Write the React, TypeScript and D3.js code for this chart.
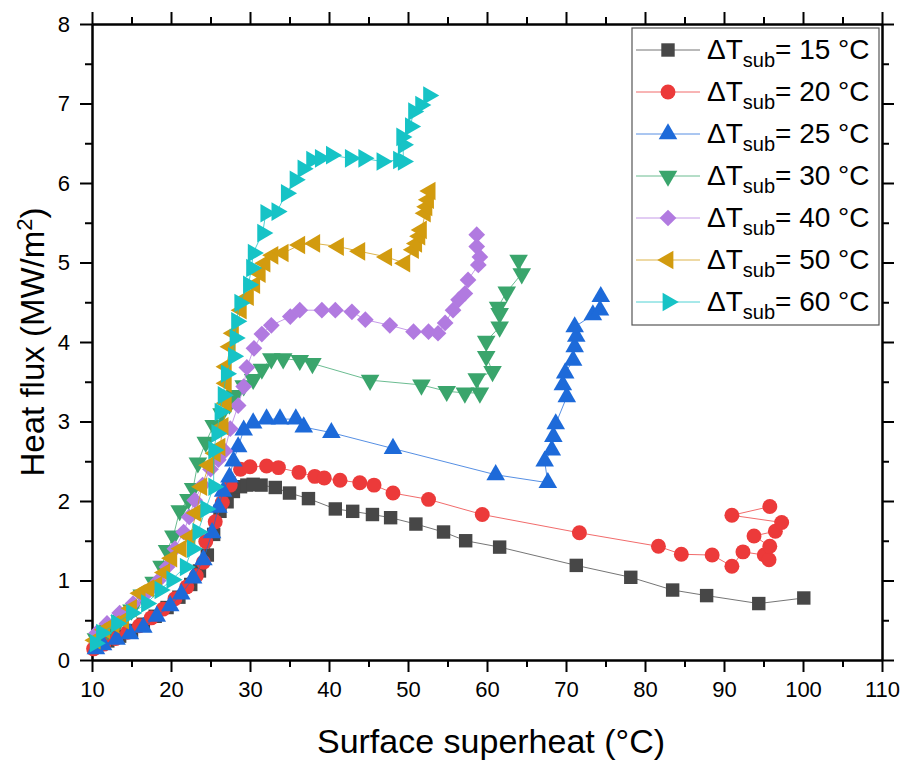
import React, { useEffect, useRef } from 'react';
import * as d3 from 'd3';

// Surface superheat (°C), heat flux (MW/m2)
const dt15: [number, number][] = [
  [10.5, 0.18], [12, 0.24], [13.5, 0.3], [15, 0.37], [16.5, 0.45], [18, 0.55], [19.5, 0.66], [21, 0.79],
  [22.5, 0.95], [23.6, 1.12], [24.6, 1.32], [25.4, 1.58], [26.2, 1.87], [27.1, 1.99], [27.9, 2.12],
  [28.8, 2.18], [29.6, 2.2], [30.4, 2.21], [31.4, 2.2], [33.2, 2.17], [35.0, 2.1], [37.4, 2.03],
  [40.8, 1.9], [43.0, 1.87], [45.5, 1.83], [47.8, 1.79], [51.0, 1.71], [54.5, 1.61], [57.3, 1.5],
  [61.6, 1.42], [71.3, 1.19], [78.2, 1.04], [83.5, 0.88], [87.8, 0.81], [94.4, 0.71], [100.1, 0.78]
];
const dt20: [number, number][] = [
  [10.2, 0.14], [11.5, 0.2], [13, 0.27], [14.5, 0.35], [16, 0.43], [17.5, 0.53], [19, 0.64], [20.5, 0.77],
  [22, 0.92], [23.2, 1.06], [24.1, 1.23], [24.4, 1.49], [25.6, 1.74], [26.5, 1.98], [27.5, 2.2],
  [28.8, 2.4], [30.0, 2.43], [32.1, 2.44], [33.6, 2.42], [36.2, 2.36], [38.2, 2.31], [39.4, 2.29],
  [41.4, 2.26], [43.9, 2.23], [45.7, 2.2], [48.1, 2.1], [52.6, 2.02], [59.4, 1.83], [71.7, 1.6],
  [81.7, 1.43], [84.6, 1.33], [88.5, 1.32], [91.0, 1.18], [92.4, 1.36], [95.1, 1.32], [95.7, 1.26],
  [95.8, 1.43], [93.8, 1.56], [96.5, 1.62], [97.3, 1.73], [91.0, 1.82], [95.8, 1.93]
];
const dt25: [number, number][] = [
  [10.5, 0.14], [11.4, 0.19], [13.1, 0.26], [14.8, 0.33], [16.5, 0.41], [18.2, 0.55], [19.9, 0.68],
  [21.3, 0.83], [22.8, 1.03], [24.1, 1.26], [25.2, 1.6], [26.0, 1.92], [26.6, 2.12], [27.4, 2.3],
  [27.9, 2.5], [28.5, 2.68], [29.2, 2.89], [30.4, 2.98], [32.1, 3.03], [33.8, 3.03], [35.8, 3.03],
  [36.8, 2.93], [40.3, 2.86], [48.1, 2.66], [61.1, 2.33], [67.7, 2.23], [67.3, 2.5], [68.2, 2.64],
  [68.4, 2.81], [68.7, 2.97], [70.1, 3.31], [69.6, 3.46], [69.9, 3.61], [70.9, 3.77], [71.1, 3.94],
  [71.3, 4.07], [71.1, 4.19], [73.4, 4.34], [74.3, 4.4], [74.4, 4.57]
];
const dt30: [number, number][] = [
  [10.5, 0.27], [12, 0.38], [13.5, 0.5], [15, 0.63], [16.3, 0.82], [17.8, 0.98], [18.8, 1.18],
  [19.5, 1.38], [20.3, 1.56], [21.1, 1.88], [22.2, 2.02], [22.8, 2.16], [23.4, 2.48], [24.4, 2.74],
  [25.4, 2.95], [26.4, 3.1], [27.4, 3.22], [28.1, 3.33], [29.2, 3.45], [30.4, 3.53], [31.5, 3.66],
  [32.7, 3.79], [34.2, 3.79], [36.3, 3.77], [37.9, 3.73], [45.2, 3.52], [51.7, 3.46], [54.9, 3.38],
  [57.2, 3.36], [59.1, 3.36], [58.7, 3.54], [60.7, 3.63], [59.9, 3.82], [59.9, 4.01], [61.6, 4.19],
  [61.6, 4.36], [61.4, 4.44], [62.5, 4.63], [64.4, 4.86], [64.0, 5.03]
];
const dt40: [number, number][] = [
  [10.6, 0.34], [11.9, 0.46], [13.5, 0.59], [15.2, 0.71], [16.5, 0.8], [17.5, 0.9], [18.4, 1.0],
  [19.5, 1.17], [20.5, 1.4], [21.6, 1.61], [22.3, 1.8], [23.0, 2.01], [24.0, 2.2], [25.0, 2.4],
  [26.0, 2.52], [26.8, 2.63], [27.5, 2.91], [28.5, 3.2], [29.2, 3.44], [29.6, 3.68], [30.5, 3.92],
  [31.5, 4.1], [32.7, 4.21], [35.1, 4.32], [36.3, 4.4], [39.1, 4.4], [40.8, 4.4], [42.9, 4.38],
  [44.6, 4.28], [47.7, 4.21], [50.7, 4.13], [52.6, 4.13], [53.8, 4.11], [54.7, 4.24], [55.7, 4.4],
  [56.4, 4.53], [57.2, 4.61], [57.6, 4.78], [58.9, 4.97], [59.1, 5.07], [58.7, 5.2], [58.7, 5.35]
];
const dt50: [number, number][] = [
  [10.4, 0.25], [11.6, 0.38], [12.8, 0.45], [14.0, 0.5], [15.0, 0.65], [16.1, 0.84], [17.2, 0.9],
  [18.2, 0.94], [19.2, 1.1], [20.1, 1.28], [21.3, 1.4], [22.4, 1.55], [23.2, 1.85], [23.9, 2.18],
  [24.8, 2.45], [25.6, 2.6], [26.2, 2.68], [26.6, 2.94], [27.0, 3.23], [27.0, 3.48], [27.0, 3.69],
  [27.5, 3.94], [27.9, 4.11], [28.9, 4.4], [29.8, 4.57], [30.6, 4.72], [31.3, 4.86], [31.9, 4.99],
  [32.9, 5.09], [34.2, 5.12], [36.3, 5.22], [38.2, 5.24], [41.2, 5.2], [43.9, 5.14], [47.3, 5.07],
  [49.6, 4.99], [50.7, 5.16], [51.1, 5.24], [51.5, 5.33], [51.7, 5.41], [52.2, 5.62], [52.4, 5.7],
  [52.6, 5.79], [52.8, 5.9]
];
const dt60: [number, number][] = [
  [10.4, 0.21], [11.2, 0.34], [13.1, 0.46], [15.0, 0.59], [16.9, 0.71], [18.6, 0.88], [20.1, 1.01],
  [21.8, 1.17], [22.7, 1.4], [23.4, 1.61], [24.4, 1.9], [25.4, 2.18], [25.4, 2.64], [25.8, 2.85],
  [26.2, 3.12], [26.6, 3.33], [27.0, 3.6], [27.9, 3.82], [28.1, 4.05], [28.3, 4.26], [28.7, 4.49],
  [29.8, 4.72], [30.2, 4.93], [30.4, 5.12], [31.6, 5.37], [32.0, 5.62], [33.4, 5.64], [34.6, 5.87],
  [35.7, 6.04], [36.7, 6.18], [37.8, 6.29], [38.9, 6.31], [40.3, 6.35], [42.7, 6.31], [44.4, 6.31],
  [46.7, 6.27], [48.8, 6.29], [49.4, 6.27], [49.4, 6.48], [49.2, 6.58], [50.3, 6.71], [50.7, 6.9],
  [51.6, 6.98], [52.6, 7.1]
];

const subcoolings = [15, 20, 25, 30, 40, 50, 60];
const seriesData = [dt15, dt20, dt25, dt30, dt40, dt50, dt60];
const colors = ['#474747', '#ec3a3a', '#1d6ad9', '#3aa56c', '#b17ae0', '#d29b0f', '#16c3c6'];
const xTicks = [10, 20, 30, 40, 50, 60, 70, 80, 90, 100, 110];
const yTicks = [0, 1, 2, 3, 4, 5, 6, 7, 8];

const FONT = '"Liberation Sans", Arial, sans-serif';

// marker shape per series: [symbol type, size, rotation]
const markers: [d3.SymbolType, number, number][] = [
  [d3.symbolSquare, 180, 0],
  [d3.symbolCircle, 175, 0],
  [d3.symbolTriangle, 150, 0],
  [d3.symbolTriangle, 150, 180],
  [d3.symbolSquare, 140, 45],
  [d3.symbolTriangle, 150, -90],
  [d3.symbolTriangle, 150, 90]
];

const App = () => {
  const svgRef = useRef<SVGSVGElement>(null);

  useEffect(() => {
    const svg = d3.select(svgRef.current);
    svg.selectAll('*').remove();

    const margin = { top: 24, right: 28, bottom: 102, left: 92 };
    const width = 910 - margin.left - margin.right;
    const height = 762 - margin.top - margin.bottom;

    const g = svg.append('g').attr('transform', `translate(${margin.left},${margin.top})`);

    const x = d3.scaleLinear().domain([10, 110]).range([0, width]);
    const y = d3.scaleLinear().domain([0, 8]).range([height, 0]);

    const minorX = d3.range(15, 110, 10);
    const minorY = d3.range(0.5, 8, 1);

    const styleAxis = (sel: any) => {
      sel.select('.domain').attr('stroke', '#000').attr('stroke-width', 2);
      sel.selectAll('.tick line').attr('stroke', '#000').attr('stroke-width', 2);
      sel.selectAll('text').style('font-family', FONT).style('font-size', '22px').attr('fill', '#000');
    };

    // minor ticks
    g.append('g').attr('transform', `translate(0,${height})`)
      .call(d3.axisBottom(x).tickValues(minorX).tickSize(7).tickFormat(() => '').tickSizeOuter(0))
      .call(styleAxis);
    g.append('g')
      .call(d3.axisTop(x).tickValues(minorX).tickSize(7).tickFormat(() => '').tickSizeOuter(0))
      .call(styleAxis);
    g.append('g')
      .call(d3.axisLeft(y).tickValues(minorY).tickSize(7).tickFormat(() => '').tickSizeOuter(0))
      .call(styleAxis);
    g.append('g').attr('transform', `translate(${width},0)`)
      .call(d3.axisRight(y).tickValues(minorY).tickSize(7).tickFormat(() => '').tickSizeOuter(0))
      .call(styleAxis);

    // major ticks
    g.append('g').attr('transform', `translate(0,${height})`)
      .call(d3.axisBottom(x).tickValues(xTicks).tickSize(12).tickPadding(9).tickSizeOuter(0))
      .call(styleAxis);
    g.append('g')
      .call(d3.axisTop(x).tickValues(xTicks).tickSize(12).tickFormat(() => '').tickSizeOuter(0))
      .call(styleAxis);
    g.append('g')
      .call(d3.axisLeft(y).tickValues(yTicks).tickSize(12).tickPadding(10).tickSizeOuter(0))
      .call(styleAxis);
    g.append('g').attr('transform', `translate(${width},0)`)
      .call(d3.axisRight(y).tickValues(yTicks).tickSize(12).tickFormat(() => '').tickSizeOuter(0))
      .call(styleAxis);

    // series
    const line = d3.line<[number, number]>()
      .x(d => x(d[0]))
      .y(d => y(d[1]));

    seriesData.forEach((data, i) => {
      const [type, size, rot] = markers[i];
      const sg = g.append('g');
      sg.append('path')
        .datum(data)
        .attr('d', line)
        .attr('fill', 'none')
        .attr('stroke', colors[i])
        .attr('stroke-opacity', 0.75)
        .attr('stroke-width', 1);
      sg.selectAll('path.pt')
        .data(data)
        .enter()
        .append('path')
        .attr('class', 'pt')
        .attr('d', d3.symbol().type(type).size(size)())
        .attr('transform', d => `translate(${x(d[0])},${y(d[1])}) rotate(${rot})`)
        .attr('fill', colors[i]);
    });

    // legend
    const lg = g.append('g').attr('transform', `translate(${632 - margin.left},${28 - margin.top})`);
    lg.append('rect')
      .attr('width', 247)
      .attr('height', 297)
      .attr('fill', '#fff')
      .attr('stroke', '#555')
      .attr('stroke-width', 1.2);

    subcoolings.forEach((t, i) => {
      const [type, size, rot] = markers[i];
      const cy = 22 + i * 42;
      lg.append('line')
        .attr('x1', 4).attr('x2', 68)
        .attr('y1', cy).attr('y2', cy)
        .attr('stroke', colors[i])
        .attr('stroke-opacity', 0.75)
        .attr('stroke-width', 1);
      lg.append('path')
        .attr('d', d3.symbol().type(type).size(size)())
        .attr('transform', `translate(36,${cy}) rotate(${rot})`)
        .attr('fill', colors[i]);
      const txt = lg.append('text')
        .attr('x', 75)
        .attr('y', cy + 9)
        .style('font-family', FONT)
        .style('font-size', '28px')
        .attr('fill', '#000');
      txt.append('tspan').text('ΔT');
      txt.append('tspan').attr('dy', 8).style('font-size', '20px').text('sub');
      txt.append('tspan').attr('dy', -8).text(`= ${t} °C`);
    });

    // axis titles
    g.append('text')
      .attr('x', width / 2 + 4)
      .attr('y', height + 93)
      .attr('text-anchor', 'middle')
      .style('font-family', FONT)
      .style('font-size', '34px')
      .text('Surface superheat (°C)');

    const yt = g.append('text')
      .attr('transform', `translate(${-48},${height / 2}) rotate(-90)`)
      .attr('text-anchor', 'middle')
      .style('font-family', FONT)
      .style('font-size', '33px');
    yt.append('tspan').text('Heat flux (MW/m');
    yt.append('tspan').attr('dy', -12).style('font-size', '22px').text('2');
    yt.append('tspan').attr('dy', 12).text(')');
  }, []);

  return (
    <svg
      ref={svgRef}
      width={910}
      height={762}
      style={{ position: 'absolute', left: 0, top: 0, background: '#fff' }}
    />
  );
};

export default App;
